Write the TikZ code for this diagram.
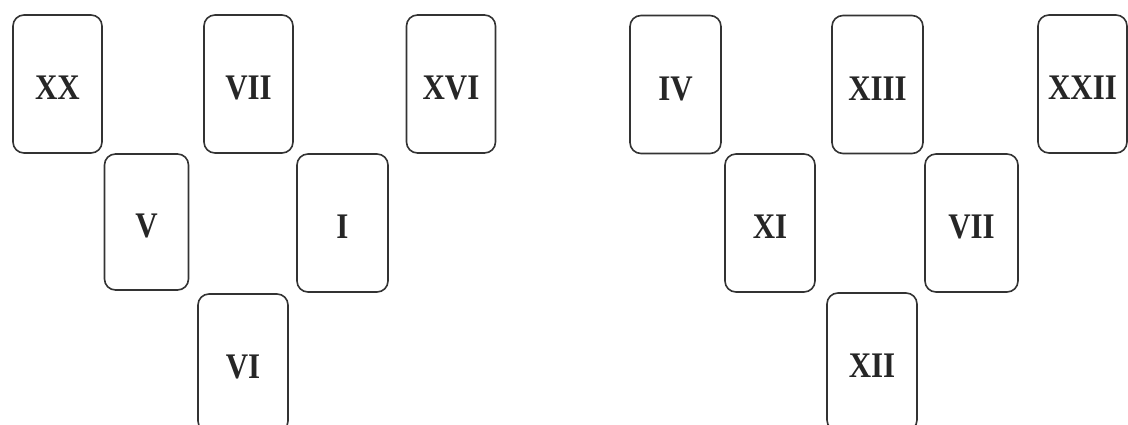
\documentclass[tikz,border=0pt]{standalone}
\usepackage{fontspec}
\setmainfont{Liberation Serif}
\newcommand{\cardlbl}[1]{\raisebox{-4pt}[\height][0pt]{\scalebox{0.86}[1]{#1}}}
\tikzset{
  card/.style={draw=black!80, line width=1.6pt, rounded corners=11pt,
    minimum width=89pt, minimum height=138pt, inner sep=0pt,
    font=\fontsize{36}{40}\selectfont\bfseries, text=black!85},
}
\begin{document}
\begin{tikzpicture}[x=1pt,y=-1pt]
\clip (0,0) rectangle (1128,425);
\fill[white] (0,0) rectangle (1128,425);
% left group
\node[card] (xx)   at (57.5,84)  {\cardlbl{XX}};
\node[card] (viia) at (248.5,84) {\cardlbl{VII}};
\node[card] (xvi)  at (451,84)   {\cardlbl{XVI}};
\node[card, minimum width=84pt, minimum height=136pt] (v) at (146.5,222) {\cardlbl{V}};
\node[card, minimum width=91pt] (i) at (342.5,223) {\cardlbl{I}};
\node[card, minimum width=90pt] (vi) at (243,363) {\cardlbl{VI}};
% right group
\node[card, minimum width=91pt] (iv)   at (675.5,84.5) {\cardlbl{IV}};
\node[card, minimum width=91pt] (xiii) at (877.5,84.5) {\cardlbl{XIII}};
\node[card] (xxii) at (1082.5,84) {\cardlbl{XXII}};
\node[card, minimum width=90pt] (xi) at (770,223) {\cardlbl{XI}};
\node[card, minimum width=93pt] (viib) at (971.5,223) {\cardlbl{VII}};
\node[card, minimum width=90pt] (xii) at (872,362) {\cardlbl{XII}};
\end{tikzpicture}
\end{document}
